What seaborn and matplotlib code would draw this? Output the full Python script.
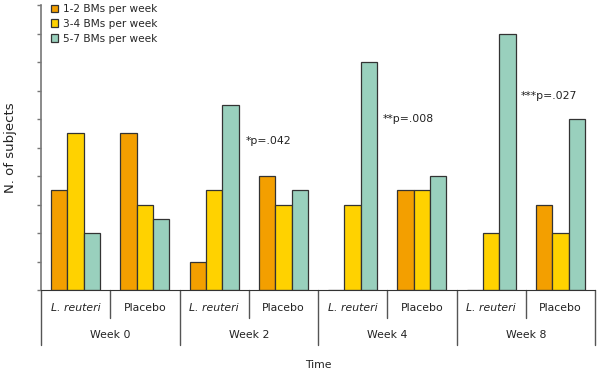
import matplotlib
matplotlib.use("Agg")
import matplotlib.pyplot as plt
import seaborn as sns
import pandas as pd

groups = ["W0 L", "W0 P", "W2 L", "W2 P", "W4 L", "W4 P", "W8 L", "W8 P"]
treat_labels = ["L. reuteri", "Placebo"] * 4
week_labels = ["Week 0", "Week 2", "Week 4", "Week 8"]
series = ["1-2 BMs per week", "3-4 BMs per week", "5-7 BMs per week"]
bm12 = [7, 11, 2, 8, 0, 7, 0, 6]
bm34 = [11, 6, 7, 6, 6, 7, 4, 4]
bm57 = [4, 5, 13, 7, 16, 8, 18, 12]
annotations = ["*p=.042", "**p=.008", "***p=.027"]
colors = ["#F39F00", "#FFD200", "#99D0BD"]

rows = []
for g, a, b, c in zip(groups, bm12, bm34, bm57):
    rows.append((g, series[0], a))
    rows.append((g, series[1], b))
    rows.append((g, series[2], c))
df = pd.DataFrame(rows, columns=["group", "bm", "count"])

sns.set_style("white")
plt.rcParams["font.family"] = ["DejaVu Sans"]

fig = plt.figure(figsize=(6.0, 3.73), dpi=100)
ax = fig.add_axes([41/600, 1-290/373, (595-41)/600, (290-5)/373])
sns.barplot(data=df, x="group", y="count", hue="bm", palette=colors,
            width=0.71, edgecolor="#333333", linewidth=0.9, ax=ax,
            legend=True, saturation=1)
ax.set_xlim(-0.5, 7.5)
ax.set_ylim(0, 20)
ax.set_yticks(range(0, 21, 2))
ax.set_yticklabels([])
ax.set_xticks([])
ax.set_xlabel("")
ax.tick_params(axis="y", left=True, length=3, color="#777777", width=1)
for s in ["top", "right"]:
    ax.spines[s].set_visible(False)
ax.spines["left"].set_color("#777777")
ax.spines["bottom"].set_color("#333333")
ax.spines["left"].set_linewidth(1.2)

ax.set_ylabel("N. of subjects", fontsize=9.5, color="#222222")
ax.yaxis.set_label_coords(-0.043, 0.5)

tr = ax.get_xaxis_transform()
lc = "#555555"
fs = 7.8
for x in [0.5, 2.5, 4.5, 6.5]:
    ax.plot([x, x], [0, -0.098], transform=tr, clip_on=False, color=lc, lw=1)
for x in [-0.5, 1.5, 3.5, 5.5, 7.5]:
    ax.plot([x, x], [0, -0.193], transform=tr, clip_on=False, color=lc, lw=1)
for i, t in enumerate(treat_labels):
    ax.text(i, -0.063, t, transform=tr, ha="center", va="center", fontsize=fs,
            style="italic" if t.startswith("L.") else "normal", color="#222222")
for i, w in enumerate(week_labels):
    ax.text(2*i + 0.5, -0.158, w, transform=tr, ha="center", va="center",
            fontsize=fs, color="#222222")
ax.text(3.5, -0.263, "Time", transform=tr, ha="center", va="center",
        fontsize=fs, color="#222222")

ann_pos = [(2.45, 10.45), (4.44, 12.0), (6.43, 13.6)]
for (x, y), t in zip(ann_pos, annotations):
    ax.text(x, y, t, ha="left", va="center", fontsize=fs, color="#222222")

handles, labels = ax.get_legend_handles_labels()
ax.legend(handles, labels, loc="upper left", bbox_to_anchor=(0.01, 1.018),
          frameon=False, fontsize=7.6, handlelength=0.7, handleheight=0.7,
          handletextpad=0.5, labelspacing=0.45, borderaxespad=0)

fig.savefig("out.png", dpi=100)
